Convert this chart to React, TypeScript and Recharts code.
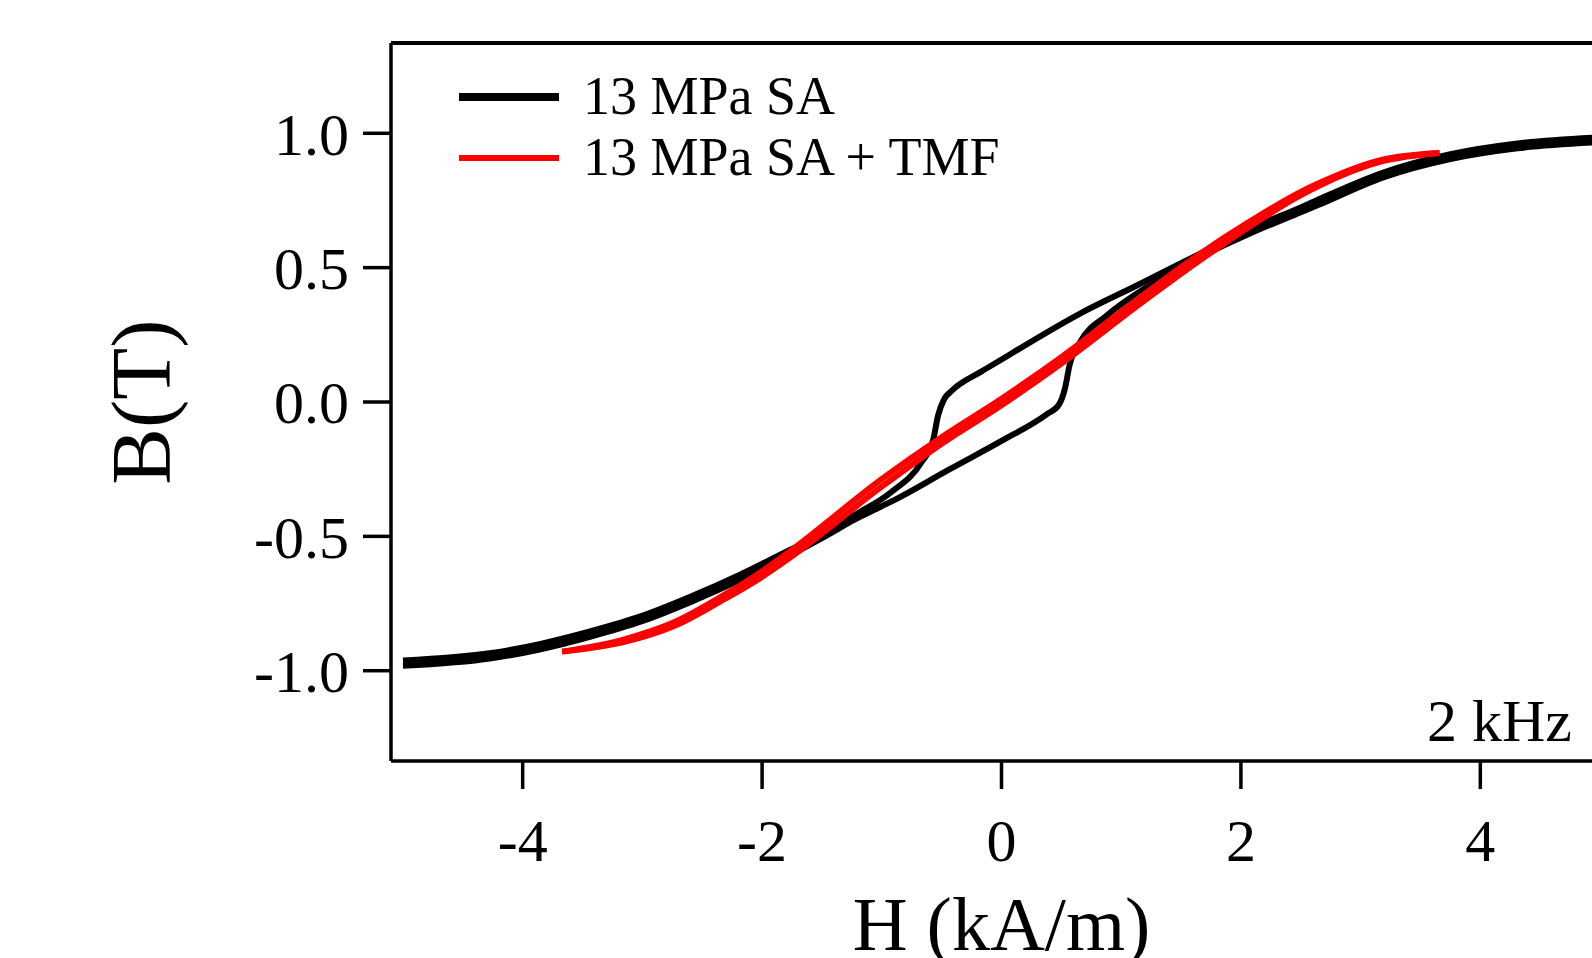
import { LineChart, Line, XAxis, YAxis, Legend, Label, ReferenceLine } from "recharts";

const FONT = '"Liberation Serif", "Times New Roman", Times, serif';

// 13 MPa SA, ascending branch (H going up)
const blackUpH = [-5.0, -4.26, -3.85, -3.43, -3.01, -2.59, -2.18, -1.76, -1.4, -1.26, -1.01, -0.84, -0.44, 0.0, 0.38, 0.48, 0.53, 0.57, 0.66, 0.88, 1.16, 1.52, 1.66, 2.08, 2.5, 2.64, 3.19, 3.75, 4.31, 5.0];
const blackUpB = [-0.982, -0.954, -0.92, -0.873, -0.817, -0.743, -0.662, -0.569, -0.482, -0.445, -0.39, -0.352, -0.252, -0.145, -0.045, -0.01, 0.05, 0.14, 0.225, 0.322, 0.412, 0.5, 0.538, 0.628, 0.706, 0.732, 0.836, 0.904, 0.944, 0.967];

// 13 MPa SA, descending branch (H going down)
const blackDownH = [5.0, 4.31, 3.75, 3.19, 2.64, 2.5, 2.08, 1.66, 1.52, 1.16, 0.66, 0.1, 0.0, -0.17, -0.42, -0.48, -0.53, -0.57, -0.67, -0.92, -1.26, -1.4, -1.76, -2.18, -2.59, -3.01, -3.43, -3.85, -4.26, -5.0];
const blackDownB = [0.985, 0.962, 0.922, 0.854, 0.752, 0.724, 0.646, 0.552, 0.521, 0.44, 0.33, 0.185, 0.158, 0.113, 0.04, 0.01, -0.05, -0.14, -0.225, -0.335, -0.43, -0.472, -0.549, -0.642, -0.723, -0.797, -0.853, -0.9, -0.934, -0.962];

// 13 MPa SA + TMF
const redUpH = [-3.67, -3.15, -2.73, -2.32, -2.04, -1.76, -1.01, -0.5, 0.0, 0.5, 1.16, 1.66, 2.08, 2.5, 2.64, 3.19, 3.66];
const redUpB = [-0.929, -0.893, -0.833, -0.735, -0.662, -0.577, -0.318, -0.155, -0.012, 0.143, 0.366, 0.528, 0.655, 0.77, 0.802, 0.897, 0.927];
const redDownH = [3.66, 3.19, 2.64, 2.5, 2.08, 1.66, 1.16, 0.5, 0.0, -0.5, -1.01, -1.76, -2.04, -2.32, -2.73, -3.15, -3.67];
const redDownB = [0.927, 0.903, 0.812, 0.782, 0.673, 0.552, 0.39, 0.167, 0.012, -0.131, -0.29, -0.553, -0.642, -0.719, -0.819, -0.883, -0.929];

const xTicks = [-4, -2, 0, 2, 4];
const yTicks = [-1, -0.5, 0, 0.5, 1];
const xDomain = [-5.1, 5.1];
const yDomain = [-1.336, 1.336];

const toRows = (hs: number[], bs: number[]) => hs.map((h, i) => ({ H: h, B: bs[i] }));

const legendThickness: Record<string, number> = {
  "13 MPa SA": 8,
  "13 MPa SA + TMF": 6,
};

const renderLegend = (props: any) => (
  <div style={{ fontFamily: FONT, fontSize: 54, color: "#000" }}>
    {(props.payload || [])
      .filter((entry: any) => entry.value in legendThickness)
      .map((entry: any) => (
        <div key={entry.value} style={{ display: "flex", alignItems: "center", height: 61 }}>
          <div style={{ width: 100, height: legendThickness[entry.value], background: entry.color }} />
          <span style={{ marginLeft: 24, lineHeight: "61px", whiteSpace: "nowrap" }}>{entry.value}</span>
        </div>
      ))}
  </div>
);

const XTitle = ({ viewBox }: any) => (
  <text x={viewBox.x + viewBox.width / 2} y={viewBox.y + 189} textAnchor="middle" fontFamily={FONT} fontSize={76} fill="#000">
    H (kA/m)
  </text>
);

const YTitle = ({ viewBox }: any) => {
  const x = viewBox.x + 170;
  const y = viewBox.y + viewBox.height / 2;
  return (
    <text x={x} y={y} transform={`rotate(-90, ${x}, ${y})`} textAnchor="middle" fontFamily={FONT} fontSize={85} fill="#000">
      B(T)
    </text>
  );
};

const FreqNote = ({ viewBox }: any) => (
  <text x={viewBox.x + viewBox.width - 40} y={viewBox.y - 20} textAnchor="end" fontFamily={FONT} fontSize={60} fill="#000">
    2 kHz
  </text>
);

const tickStyle = { fontFamily: FONT, fontSize: 60, fill: "#000" };
const axisStroke = { stroke: "#000", strokeWidth: 3.5 };

const App = () => {
  return (
    <div style={{ position: "fixed", left: 0, top: 0, width: 1592, height: 958, overflow: "hidden", background: "#fff" }}>
      <LineChart width={1640} height={958} margin={{ top: 43, right: 28, bottom: 0, left: 0 }}>
        <XAxis
          dataKey="H"
          type="number"
          domain={xDomain}
          ticks={xTicks}
          height={197}
          tick={tickStyle}
          tickSize={28}
          tickMargin={29}
          stroke="#000"
          strokeWidth={3.5}
          tickLine={axisStroke}
          axisLine={axisStroke}
        >
          <Label content={<XTitle />} />
        </XAxis>
        <YAxis
          type="number"
          domain={yDomain}
          ticks={yTicks}
          width={391}
          tick={tickStyle}
          tickSize={28}
          tickMargin={14}
          stroke="#000"
          strokeWidth={3.5}
          tickLine={axisStroke}
          axisLine={axisStroke}
          tickFormatter={(v: number) => v.toFixed(1)}
        >
          <Label content={<YTitle />} />
        </YAxis>
        <ReferenceLine y={yDomain[1]} stroke="#000" strokeWidth={4} />
        <ReferenceLine y={yDomain[0]} stroke="none">
          <Label content={<FreqNote />} />
        </ReferenceLine>
        <Legend
          layout="vertical"
          align="center"
          verticalAlign="middle"
          content={renderLegend}
          wrapperStyle={{ position: "absolute", left: 459, top: 66, width: "auto", height: "auto" }}
        />
        <Line name="13 MPa SA" data={toRows(blackUpH, blackUpB)} dataKey="B" type="monotone" stroke="#000" strokeWidth={6} dot={false} isAnimationActive={false} />
        <Line name="13 MPa SA (down)" legendType="none" data={toRows(blackDownH, blackDownB)} dataKey="B" type="monotone" stroke="#000" strokeWidth={6} dot={false} isAnimationActive={false} />
        <Line name="13 MPa SA + TMF" data={toRows(redUpH, redUpB)} dataKey="B" type="monotone" stroke="#ff0000" strokeWidth={6} dot={false} isAnimationActive={false} />
        <Line name="13 MPa SA + TMF (down)" legendType="none" data={toRows(redDownH, redDownB)} dataKey="B" type="monotone" stroke="#ff0000" strokeWidth={6} dot={false} isAnimationActive={false} />
      </LineChart>
    </div>
  );
};

export default App;
